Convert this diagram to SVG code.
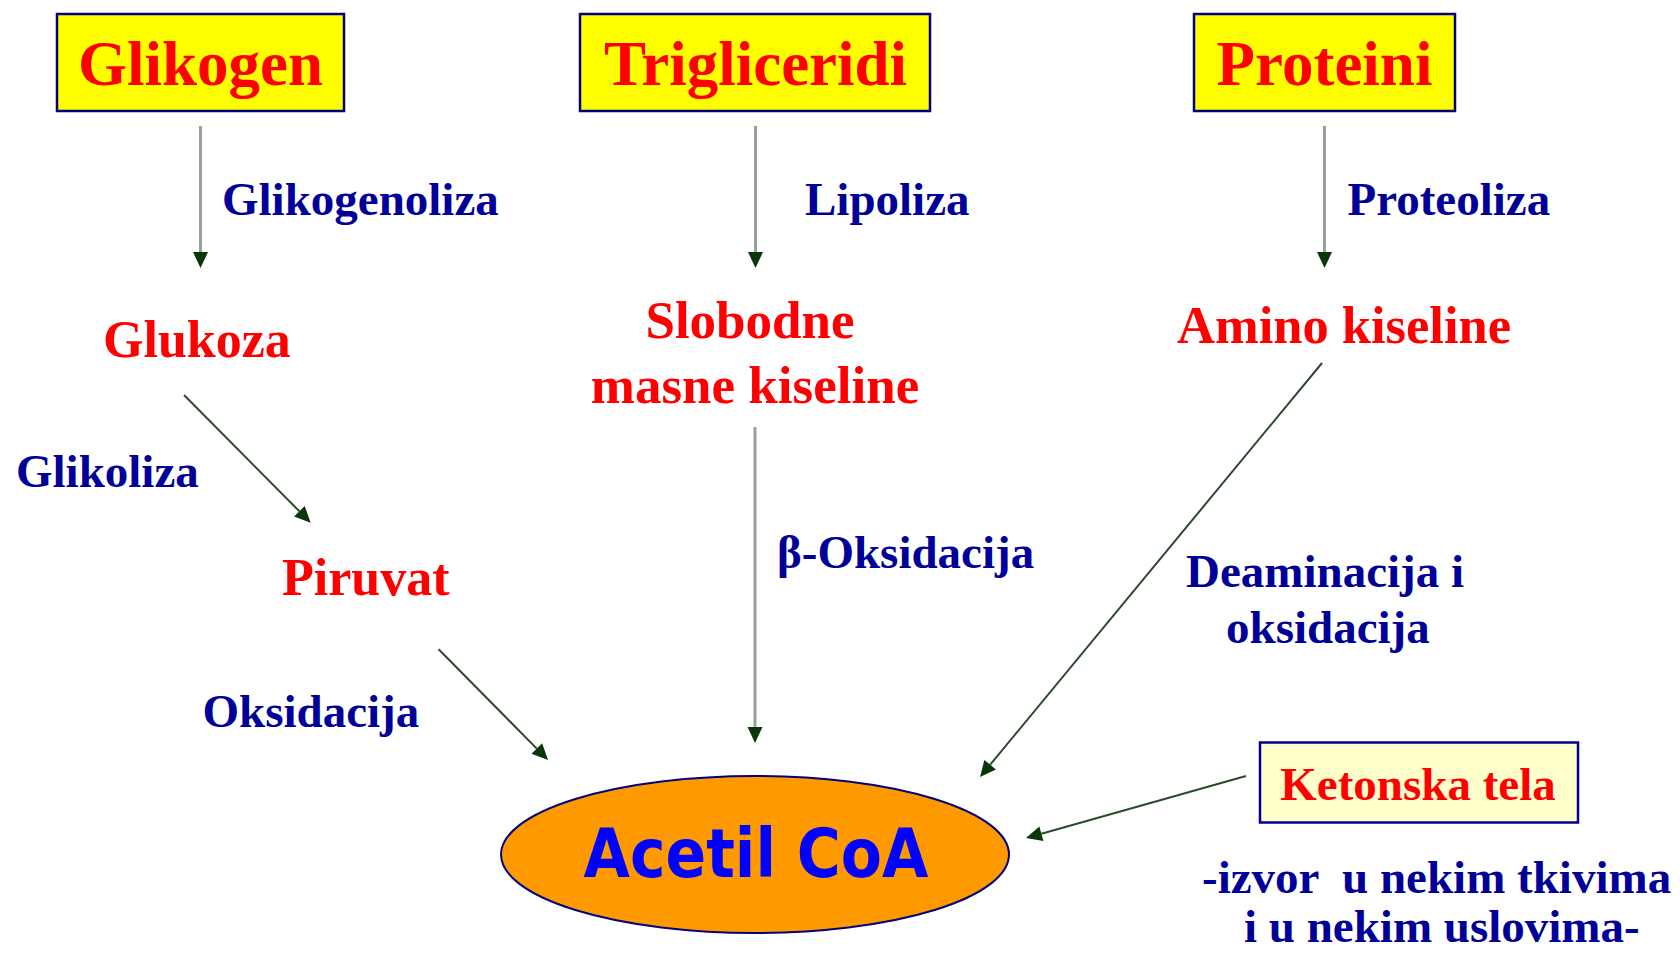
<svg xmlns="http://www.w3.org/2000/svg" width="1680" height="953" viewBox="0 0 1680 953">
<style>
.box{fill:#ffff00;stroke:#000080;stroke-width:2.5}
.kbox{fill:#ffffcc;stroke:#000099;stroke-width:2.5}
.title{font-family:"Liberation Serif","Times New Roman",serif;font-weight:bold;font-size:63px;fill:#ff0000}
.node{font-family:"Liberation Serif","Times New Roman",serif;font-weight:bold;font-size:52px;fill:#ff0000}
.lbl{font-family:"Liberation Serif","Times New Roman",serif;font-weight:bold;font-size:47px;fill:#000099}
.vline{stroke:#98a198;stroke-width:3;fill:none}
.dline{stroke:#2d4a2d;stroke-width:2;fill:none}
</style>
<defs>
<marker id="ah" markerUnits="userSpaceOnUse" markerWidth="16" markerHeight="15" refX="0" refY="7.5" orient="auto" overflow="visible">
<path d="M0,0 L16,7.5 L0,15 z" fill="#0a360a"/>
</marker>
</defs>
<rect width="1680" height="953" fill="#ffffff"/>
<g id="connectors">
<line class="vline" x1="200.5" y1="126" x2="200.5" y2="252" marker-end="url(#ah)"/>
<line class="vline" x1="755.5" y1="126" x2="755.5" y2="252" marker-end="url(#ah)"/>
<line class="vline" x1="1324.5" y1="126" x2="1324.5" y2="252" marker-end="url(#ah)"/>
<line class="vline" x1="755" y1="427" x2="755" y2="727" marker-end="url(#ah)"/>
<line class="dline" x1="184" y1="395" x2="299.4" y2="511.3" marker-end="url(#ah)"/>
<line class="dline" x1="438.6" y1="649.3" x2="536.8" y2="748.6" marker-end="url(#ah)"/>
<line class="dline" x1="1322" y1="363" x2="990.2" y2="764.7" marker-end="url(#ah)"/>
<line class="dline" x1="1246" y1="776" x2="1041.4" y2="833.7" marker-end="url(#ah)"/>
</g>
<g id="glikogen">
<rect class="box" x="57" y="14" width="287" height="97"/>
<text class="title" x="200.5" y="85" text-anchor="middle">Glikogen</text>
</g>
<g id="trigliceridi">
<rect class="box" x="580" y="14" width="350" height="97"/>
<text class="title" x="755.5" y="85" text-anchor="middle">Trigliceridi</text>
</g>
<g id="proteini">
<rect class="box" x="1194" y="14" width="261" height="97"/>
<text class="title" x="1324.5" y="85" text-anchor="middle">Proteini</text>
</g>
<g id="glukoza">
<text class="node" x="103" y="357">Glukoza</text>
</g>
<g id="slobodne">
<text class="node" x="750" y="338" text-anchor="middle" style="font-size:53px">Slobodne</text>
<text class="node" x="755" y="403" text-anchor="middle" style="font-size:53px">masne kiseline</text>
</g>
<g id="amino">
<text class="node" x="1177" y="343" style="font-size:52.5px">Amino kiseline</text>
</g>
<g id="piruvat">
<text class="node" x="282" y="595">Piruvat</text>
</g>
<g id="acetil">
<ellipse cx="755" cy="854.5" rx="254" ry="78.5" fill="#ff9900" stroke="#000080" stroke-width="2"/>
<text x="756" y="877" text-anchor="middle" font-family="'Comic Sans MS','DejaVu Sans',sans-serif" font-weight="bold" font-size="68" fill="#0000ff" textLength="345" lengthAdjust="spacingAndGlyphs">Acetil CoA</text>
</g>
<g id="ketonska">
<rect class="kbox" x="1260" y="742.5" width="318" height="80"/>
<text class="node" x="1418" y="800" text-anchor="middle" style="font-size:47px">Ketonska tela</text>
</g>
<g id="labels">
<text class="lbl" x="222" y="215">Glikogenoliza</text>
<text class="lbl" x="805" y="215">Lipoliza</text>
<text class="lbl" x="1347.5" y="215">Proteoliza</text>
<text class="lbl" x="16" y="487">Glikoliza</text>
<text class="lbl" x="777" y="568">β-Oksidacija</text>
<text class="lbl" x="202.5" y="727">Oksidacija</text>
<text class="lbl" x="1186" y="587">Deaminacija i</text>
<text class="lbl" x="1226" y="643">oksidacija</text>
<text class="lbl" x="1202" y="893" xml:space="preserve">-izvor  u nekim tkivima</text>
<text class="lbl" x="1244" y="942">i u nekim uslovima-</text>
</g>
</svg>
